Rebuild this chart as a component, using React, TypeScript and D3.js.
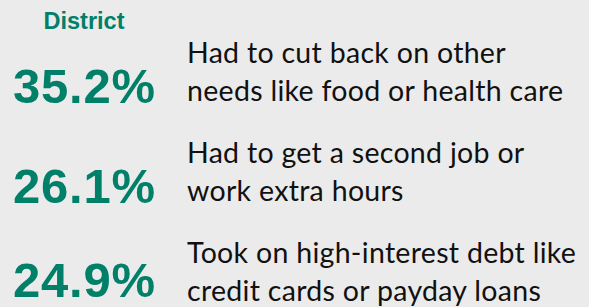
import { useRef, useEffect } from "react";
import * as d3 from "d3";

const header = "District";
const values = [35.2, 26.1, 24.9];
const lines1 = [
  "Had to cut back on other",
  "Had to get a second job or",
  "Took on high-interest debt like",
];
const lines2 = [
  "needs like food or health care",
  "work extra hours",
  "credit cards or payday loans",
];

const W = 589;
const H = 307;
const GREEN = "#007f69";

export default function App() {
  const ref = useRef<SVGSVGElement | null>(null);

  useEffect(() => {
    const svg = d3.select(ref.current);
    svg.selectAll("*").remove();

    svg.append("rect").attr("width", W).attr("height", H).attr("fill", "#ebebeb");

    const rows = values.map((v, i) => ({ v, a: lines1[i], b: lines2[i] }));

    // first-line baselines of each row
    const y = d3
      .scalePoint<number>()
      .domain(d3.range(rows.length))
      .range([63, 263]);
    const lineGap = 37.5;

    svg
      .append("text")
      .attr("x", 84)
      .attr("y", 29)
      .attr("text-anchor", "middle")
      .attr("font-family", "Liberation Sans, Arial, sans-serif")
      .attr("font-weight", "bold")
      .attr("font-size", 23.5)
      .attr("fill", GREEN)
      .text(header);

    const g = svg
      .selectAll("g.row")
      .data(rows)
      .join("g")
      .attr("class", "row")
      .attr("transform", (_, i) => `translate(0,${y(i)})`);

    // big number sits on the second line, but never lower than the frame allows
    g.append("text")
      .attr("x", 13)
      .attr("y", (_, i) => Math.min(y(i)! + 40, H - 10) - y(i)!)
      .attr("font-family", "Liberation Sans, Arial, sans-serif")
      .attr("font-weight", "bold")
      .attr("font-size", 49)
      .attr("letter-spacing", 0.8)
      .attr("fill", GREEN)
      .text((d) => `${d.v.toFixed(1)}%`);

    const body = g
      .append("text")
      .attr("font-family", "Lato, sans-serif")
      .attr("font-size", 28.5)
      .attr("letter-spacing", 0.3)
      .attr("fill", "#111");
    body.append("tspan").attr("x", 187).attr("y", 0).text((d) => d.a);
    body.append("tspan").attr("x", 187).attr("y", lineGap).text((d) => d.b);
  }, []);

  return (
    <svg
      ref={ref}
      width={W}
      height={H}
      style={{ position: "absolute", left: 0, top: 0 }}
    ></svg>
  );
}
